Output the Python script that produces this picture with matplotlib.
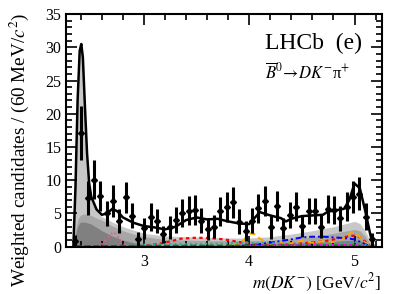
import numpy as np
import matplotlib
matplotlib.use("Agg")
import matplotlib.pyplot as plt
from matplotlib.ticker import MultipleLocator

plt.rcParams['font.family'] = ['Liberation Serif', 'DejaVu Serif']
plt.rcParams['mathtext.fontset'] = 'stix'

# data points (bin centres, 60 MeV bins)
m_data = 2.345 + 0.06 * np.arange(48)
y_data = [0.9, 17.1, 7.3, 10.1, 7.65, 5.0, 6.9, 3.9, 7.4, 4.65,
          1.1, 2.75, 4.4, 3.9, 1.85, 2.9, 4.0, 5.1, 5.4, 5.5,
          3.9, 2.65, 3.0, 5.35, 6.0, 6.65, 3.75, 2.35, 3.9, 5.75,
          6.9, 2.9, 6.1, 2.75, 4.75, 6.0, 3.1, 5.35, 5.35, 3.0,
          5.65, 5.5, 4.25, 6.0, 7.5, 8.0, 4.5, 1.1]
y_err = [0.9, 4.0, 2.6, 3.0, 2.3, 1.9, 2.4, 1.8, 2.4, 1.9,
         1.1, 1.6, 2.1, 1.8, 1.3, 1.7, 1.9, 2.1, 2.2, 2.3,
         1.9, 1.6, 1.7, 2.2, 2.3, 2.4, 1.9, 1.5, 1.9, 2.2,
         2.3, 1.7, 2.3, 1.6, 2.0, 2.2, 1.7, 2.0, 2.0, 1.7,
         2.1, 2.1, 1.9, 2.2, 2.4, 2.5, 2.0, 1.0]

# fit curve
m_fit = [2.33, 2.35, 2.37, 2.39, 2.405, 2.42, 2.44, 2.46, 2.48, 2.50,
         2.55, 2.60, 2.65, 2.70, 2.75, 2.80, 2.90, 3.00, 3.10, 3.20,
         3.30, 3.40, 3.50, 3.60, 3.70, 3.80, 3.90, 4.00, 4.10, 4.20,
         4.30, 4.35, 4.40, 4.50, 4.60, 4.70, 4.75, 4.80, 4.90, 4.95,
         5.00, 5.05, 5.10, 5.15, 5.18]
y_fit = [0.0, 9.0, 22.0, 29.5, 30.5, 28.5, 21.0, 14.0, 9.5, 7.5,
         5.6, 4.8, 5.0, 5.7, 5.3, 4.4, 3.6, 3.1, 2.9, 2.6,
         3.0, 4.0, 4.4, 4.1, 4.2, 3.8, 3.5, 3.4, 5.2, 4.7,
         4.3, 3.8, 4.2, 4.6, 4.7, 4.8, 5.3, 5.4, 5.7, 7.0,
         9.5, 8.8, 5.5, 1.8, 0.0]

# stacked grey components (cumulative tops)
m_bkg = [2.33, 2.35, 2.37, 2.39, 2.405, 2.42, 2.44, 2.46, 2.48, 2.50,
         2.55, 2.60, 2.70, 2.80, 2.90, 3.00, 3.10, 3.20, 3.40, 3.60,
         3.80, 4.00, 4.20, 4.40, 4.60, 4.80, 4.90, 5.00, 5.05, 5.10,
         5.15, 5.18]
dark = [0.0, 1.8, 3.0, 3.6, 3.7, 3.7, 3.7, 3.6, 3.5, 3.4,
        2.9, 2.4, 1.6, 1.0, 0.6, 0.35, 0.2, 0.15, 0.15, 0.2,
        0.25, 0.3, 0.4, 0.5, 0.6, 0.8, 0.9, 1.0, 0.9, 0.6,
        0.2, 0.0]
mid = [0.0, 2.5, 4.0, 4.6, 4.8, 4.9, 4.9, 4.8, 4.75, 4.7,
       4.3, 4.0, 3.1, 2.4, 1.9, 1.5, 1.3, 1.1, 1.0, 0.9,
       0.9, 0.9, 1.0, 1.2, 1.5, 2.0, 2.3, 2.6, 2.4, 1.6,
       0.5, 0.0]
light = [0.0, 8.5, 21.5, 29.0, 30.2, 28.2, 20.5, 13.5, 9.0, 7.0,
         5.3, 4.5, 3.7, 3.0, 2.5, 2.0, 1.8, 1.6, 1.5, 1.4,
         1.3, 1.3, 1.5, 1.9, 2.4, 3.0, 3.4, 3.8, 3.5, 2.4,
         0.8, 0.0]

# coloured components
m_pink = [2.33, 2.58, 2.71, 2.83, 3.0, 5.15]
y_pink = [0.05, 0.05, 2.25, 0.05, 0.05, 0.05]
m_red = [2.9, 3.0, 3.2, 3.35, 3.5, 3.6, 3.7, 3.8, 3.9, 4.0,
         4.1, 4.3, 4.5, 4.7, 4.85, 4.95, 5.0, 5.05, 5.1, 5.15]
y_red = [0.0, 0.1, 0.6, 1.2, 1.35, 1.3, 1.2, 1.0, 0.7, 0.4,
         0.25, 0.3, 0.5, 0.8, 1.2, 1.6, 1.65, 1.4, 0.8, 0.0]
m_orange = [3.85, 3.95, 4.0, 4.05, 4.1, 4.2, 4.3, 4.4, 4.5, 4.6,
            4.7, 4.8, 4.9, 4.97, 5.02, 5.1, 5.15]
y_orange = [0.0, 1.0, 2.0, 1.9, 1.2, 0.4, 0.7, 0.5, 0.9, 0.6,
            0.8, 0.7, 1.3, 2.2, 1.9, 0.6, 0.0]
m_blue = [3.8, 4.0, 4.2, 4.4, 4.5, 4.6, 4.7, 4.8, 4.9, 5.0, 5.1, 5.15]
y_blue = [0.05, 0.2, 0.6, 1.1, 1.4, 1.5, 1.5, 1.4, 1.3, 1.1, 0.4, 0.0]
m_teal = [2.8, 3.0, 3.2, 3.5, 3.8, 4.0, 4.3, 4.6, 4.9, 5.0, 5.1, 5.15]
y_teal = [0.1, 0.3, 0.4, 0.4, 0.5, 0.6, 0.5, 0.4, 0.5, 0.7, 0.3, 0.0]
m_green = [2.35, 3.0, 4.0, 5.0, 5.15]
y_green = [0.1, 0.15, 0.2, 0.2, 0.0]
m_mag = [4.0, 4.5, 5.0, 5.15]
y_mag = [0.15, 0.2, 0.25, 0.0]

fig = plt.figure(figsize=(4.10, 2.94), dpi=100)
ax = fig.add_axes([0.161, 0.161, 0.770, 0.791])

ax.fill_between(m_bkg, 0, light, color='#c8c8c8', lw=0)
ax.fill_between(m_bkg, 0, mid, color='#a6a6a6', lw=0)
ax.fill_between(m_bkg, 0, dark, color='#808080', lw=0)

ax.plot(m_pink, y_pink, color='#ff4f8f', ls=':', lw=1.3)
ax.plot(m_red, y_red, color='red', ls=(0, (1.5, 1.5)), lw=1.6)
ax.plot(m_orange, y_orange, color='orange', ls=(0, (3, 2)), lw=1.5)
ax.plot(m_blue, y_blue, color='blue', ls=(0, (3, 1.5, 1, 1.5)), lw=1.4)
ax.plot(m_teal, y_teal, color='#20b2aa', ls=':', lw=1.4)
ax.plot(m_green, y_green, color='green', ls='--', lw=1.2)
ax.plot(m_mag, y_mag, color='magenta', ls=':', lw=1.6)

ax.plot(m_fit, y_fit, color='black', lw=1.8)
ax.errorbar(m_data, y_data, yerr=y_err, xerr=0.015, fmt='D', ms=3,
            color='black', elinewidth=2.2, capsize=0)

ax.set_xlim(2.26, 5.258)
ax.set_ylim(0, 35)
ax.xaxis.set_major_locator(MultipleLocator(1))
ax.xaxis.set_minor_locator(MultipleLocator(0.2))
ax.yaxis.set_major_locator(MultipleLocator(5))
ax.yaxis.set_minor_locator(MultipleLocator(1))
ax.tick_params(which='both', direction='in', top=True, right=True,
               labelsize=11.5, width=1.2)
ax.tick_params(which='major', length=8)
ax.tick_params(which='minor', length=4)
ax.tick_params(axis='x', which='major', pad=5)
for s in ax.spines.values():
    s.set_linewidth(1.5)

ax.set_xlabel('$m(DK^{-})$ [GeV/$c^2$]', fontsize=12.5, loc='right')
ax.xaxis.set_label_coords(1.0, -0.108)
ax.set_ylabel('Weighted candidates / (60 MeV/$c^2$)', fontsize=13.8)
ax.yaxis.set_label_coords(-0.112, 0.415)

ax.text(0.63, 0.85, 'LHCb  (e)', transform=ax.transAxes, fontsize=17)
ax.text(0.63, 0.72, r'$\overline{B}{}^{0}\!\rightarrow\! DK^{-}$π$^{+}$',
        transform=ax.transAxes, fontsize=12)

fig.savefig('out.png', dpi=100)
